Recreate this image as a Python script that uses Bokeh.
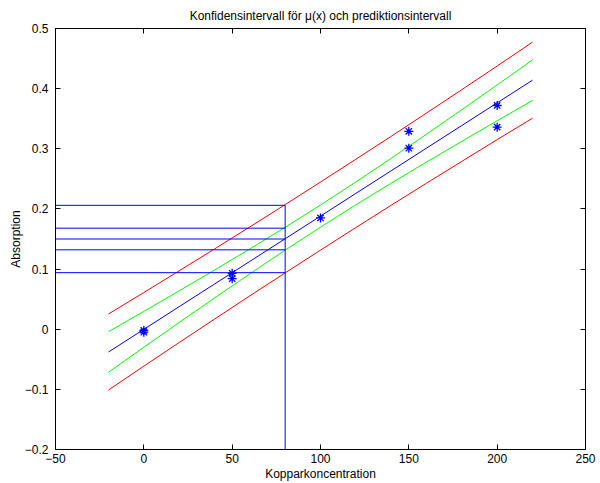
from bokeh.plotting import figure
from bokeh.models import LinearAxis, FixedTicker, Range1d
from bokeh.embed import file_html
from bokeh.resources import INLINE

# --- data ---
x_obs = [0, 0, 50, 50, 100, 150, 150, 200, 200]
y_obs = [-0.002, -0.005, 0.093, 0.084, 0.185, 0.329, 0.301, 0.372, 0.336]

x_grid = [-20, 0, 20, 40, 60, 80, 100, 120, 140, 160, 180, 200, 220]
y_fit = [-0.0379, -0.0002, 0.0375, 0.0751, 0.1128, 0.1504, 0.1881, 0.2258, 0.2634, 0.3011, 0.3387, 0.3764, 0.4141]
conf_upper = [-0.0042, 0.0296, 0.0638, 0.0983, 0.1335, 0.1694, 0.2065, 0.2448, 0.2841, 0.3243, 0.3650, 0.4062, 0.4478]
conf_lower = [-0.0716, -0.0300, 0.0112, 0.0519, 0.0921, 0.1314, 0.1697, 0.2068, 0.2427, 0.2779, 0.3124, 0.3466, 0.3804]
pred_upper = [0.0253, 0.0610, 0.0971, 0.1334, 0.1701, 0.2072, 0.2447, 0.2826, 0.3207, 0.3594, 0.3983, 0.4376, 0.4773]
pred_lower = [-0.1011, -0.0614, -0.0221, 0.0168, 0.0555, 0.0936, 0.1315, 0.1690, 0.2061, 0.2428, 0.2791, 0.3152, 0.3509]

x0 = 80
h_levels = [0.206, 0.168, 0.150, 0.132, 0.094]

x_ticks = [-50, 0, 50, 100, 150, 200, 250]
x_tick_labels = ["\u221250", "0", "50", "100", "150", "200", "250"]
y_ticks = [-0.2, -0.1, 0, 0.1, 0.2, 0.3, 0.4, 0.5]
y_tick_labels = ["\u22120.2", "\u22120.1", "0", "0.1", "0.2", "0.3", "0.4", "0.5"]

title = "Konfidensintervall för \u03bc(x) och prediktionsintervall"
xlabel = "Kopparkoncentration"
ylabel = "Absorption"

FONT = "Liberation Sans"
FS = "12px"

p = figure(width=600, height=483, x_range=Range1d(-50, 250), y_range=Range1d(-0.2, 0.5),
           output_backend="svg", toolbar_location=None,
           min_border_left=55, min_border_right=15, min_border_top=28, min_border_bottom=32,
           title=title)
p.title.text_font = FONT
p.title.text_font_size = FS
p.title.text_font_style = "normal"
p.title.align = "center"
p.title.text_color = "black"
p.title.standoff = 12

p.xgrid.visible = False
p.ygrid.visible = False
p.outline_line_color = "black"
p.outline_line_width = 1
p.background_fill_color = "white"
p.border_fill_color = "white"

def style_axis(ax, ticks, labels, fs=FS):
    ax.ticker = FixedTicker(ticks=ticks)
    ax.major_label_overrides = dict(zip(ticks, labels))
    ax.major_tick_in = 5
    ax.major_tick_out = 0
    ax.minor_tick_in = 0
    ax.minor_tick_out = 0
    ax.axis_line_color = "black"
    ax.major_tick_line_color = "black"
    ax.major_label_text_font = FONT
    ax.major_label_text_font_size = fs
    ax.major_label_text_color = "black"
    ax.axis_label_text_font = FONT
    ax.axis_label_text_font_size = FS
    ax.axis_label_text_font_style = "normal"
    ax.axis_label_text_color = "black"

xa = p.xaxis[0]
style_axis(xa, x_ticks, x_tick_labels)
xa.axis_label = xlabel
xa.major_label_standoff = 4
xa.axis_label_standoff = 1

ya = p.yaxis[0]
style_axis(ya, y_ticks, y_tick_labels)
ya.axis_label = ylabel
ya.major_label_standoff = 7
ya.axis_label_standoff = -1

# tick marks on the top and right edges (box style), without labels
top = LinearAxis()
style_axis(top, x_ticks, [""] * len(x_ticks), fs="1px")
top.major_label_standoff = 0
p.add_layout(top, "above")
right = LinearAxis()
style_axis(right, y_ticks, [""] * len(y_ticks), fs="1px")
right.major_label_standoff = 0
p.add_layout(right, "right")

# prediction interval (red), confidence interval (green), fit (blue)
p.line(x_grid, pred_upper, color="#ff0000", line_width=1)
p.line(x_grid, pred_lower, color="#ff0000", line_width=1)
p.line(x_grid, conf_upper, color="#00ff00", line_width=1)
p.line(x_grid, conf_lower, color="#00ff00", line_width=1)
p.line(x_grid, y_fit, color="#0000ff", line_width=1)

# reading lines at x0
p.segment(x0=[-50] * len(h_levels), y0=h_levels, x1=[x0] * len(h_levels), y1=h_levels,
          color="#0000ff", line_width=1)
p.segment(x0=[x0], y0=[-0.2], x1=[x0], y1=[max(h_levels)], color="#0000ff", line_width=1)

p.scatter(x_obs, y_obs, marker="asterisk", size=9, line_color="#0000ff", line_width=1.3)

open("out.html", "w").write(file_html(p, INLINE))
